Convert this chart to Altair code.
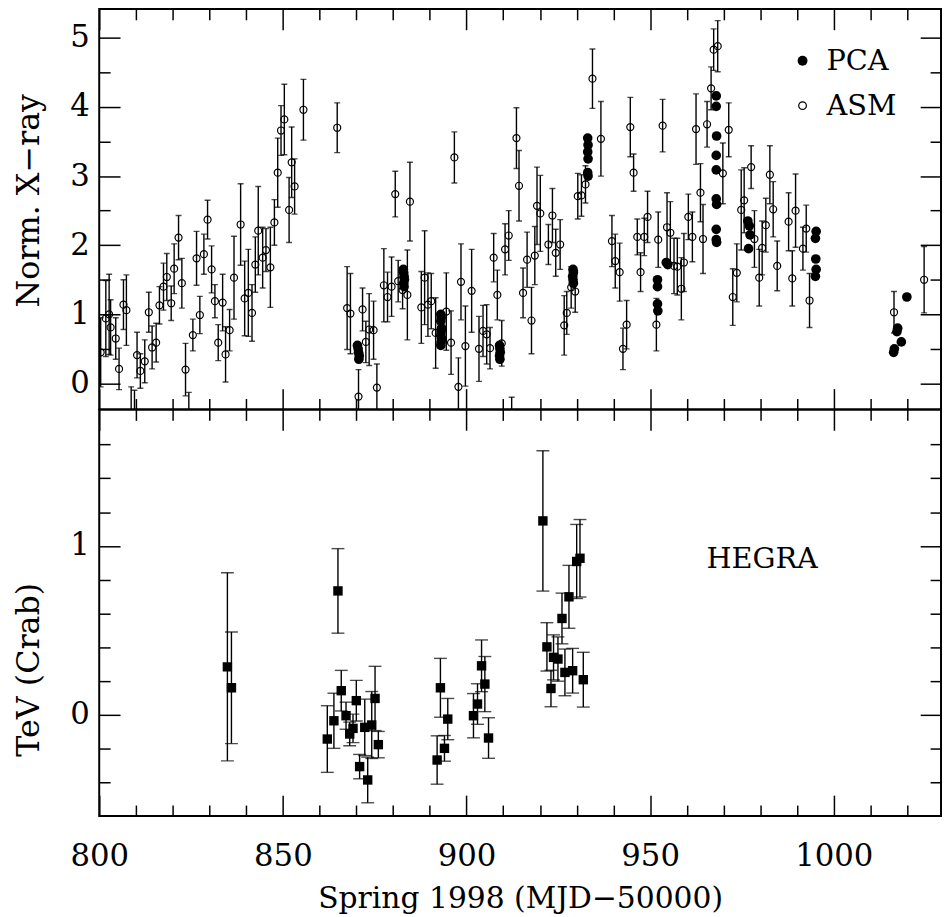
import altair as alt
import pandas as pd

# ---------------- data ----------------
asm_day = [800.4, 801.8, 802.7, 803.1, 804.5, 805.4, 806.6, 807.4, 808.7, 809.6,
           810.3, 811.2, 812.4, 813.5, 814.4, 815.5, 816.4, 817.5, 818.4, 819.6,
           820.4, 821.6, 822.5, 823.5, 824.4, 825.5, 826.5, 827.4, 828.5, 829.5,
           830.6, 831.5, 832.4, 833.6, 834.4, 835.5, 836.7, 838.5, 839.6, 840.6,
           841.6, 842.5, 843.3, 844.5, 845.4, 846.6, 847.7, 848.6, 849.5, 850.4,
           851.7, 852.4, 853.2, 855.6, 864.8, 867.5, 868.4, 870.6, 871.7, 872.6,
           873.5, 874.7, 875.6, 877.5, 878.5, 879.6, 880.6, 881.4, 882.6, 883.9,
           884.6, 887.7, 888.6, 889.5, 890.4, 891.6, 894.5, 895.8, 896.7, 897.8,
           898.5, 899.7, 901.4, 903.4, 904.5, 905.5, 906.4, 907.4, 908.4, 909.6,
           910.5, 911.5, 912.3, 913.6, 914.3, 915.4, 916.5, 917.7, 918.6, 919.2,
           920.1, 922.3, 923.4, 924.3, 925.5, 926.6, 927.3, 928.5, 929.6, 930.3,
           931.3, 932.4, 934.3, 936.6, 939.6, 940.5, 941.7, 942.6, 943.6, 944.6,
           945.5, 946.5, 947.4, 948.4, 949.3, 951.7, 952.2, 953.4, 954.6, 955.5,
           956.5, 957.4, 958.5, 959.2, 960.4, 961.5, 962.5, 963.7, 964.4, 965.5,
           966.6, 967.3, 968.4, 969.8, 971.4, 972.5, 973.6, 974.8, 975.6, 977.5,
           978.4, 979.7, 980.5, 981.5, 982.6, 983.5, 984.6, 987.7, 988.7, 989.6,
           991.6, 992.5, 993.4, 1016.4, 1024.6]
asm_val = [0.45, 0.94, 1.00, 0.81, 0.65, 0.21, 1.14, 1.06, -0.60, -0.65,
           0.41, 0.18, 0.32, 1.03, 0.52, 0.59, 1.13, 1.40, 1.54, 1.16,
           1.66, 2.11, 1.45, 0.20, -0.55, 0.70, 1.81, 0.99, 1.87, 2.37,
           1.65, 1.19, 0.59, 1.17, 0.42, 0.77, 1.53, 2.30, 1.23, 1.31,
           1.02, 1.72, 2.21, 1.82, 1.93, 1.68, 2.33, 3.05, 3.66, 3.82,
           2.51, 3.20, 2.85, 3.96, 3.70, 1.09, 1.01, -0.19, 1.07, 0.60,
           0.78, 0.77, -0.06, 1.42, 1.25, 1.40, 2.74, 1.48, 1.35, 1.28,
           2.63, 1.10, 1.53, 1.14, 1.19, 0.73, 1.04, 0.59, 3.27, -0.05,
           1.47, 0.54, 1.34, 0.50, 0.76, 0.71, 0.51, 1.82, 1.28, 0.58,
           1.94, 2.14, -0.70, 3.55, 2.86, 1.31, 1.79, 0.91, 1.85, 2.57,
           2.46, 2.01, 2.43, 1.89, 2.01, 0.84, 1.02, 1.39, 1.33, 2.71,
           2.72, 2.88, 4.41, 3.54, 2.06, 1.77, 1.61, 0.50, 0.85, 3.71,
           3.05, 2.12, 1.61, 2.12, 2.41, 0.85, 2.08, 3.73, 2.26, 2.18,
           1.70, 1.69, 1.37, 1.75, 2.41, 2.12, 3.68, 2.76, 2.09, 3.75,
           4.27, 4.83, 4.88, 3.04, 3.67, 1.25, 1.60, 2.51, 2.65, 3.13,
           2.09, 1.53, 1.96, 2.29, 3.02, 2.52, 1.70, 2.34, 1.52, 2.50,
           1.95, 2.24, 1.20, 1.03, 1.50]
asm_err = [0.50, 0.55, 0.58, 0.40, 0.30, 0.30, 0.36, 0.51, 0.55, 0.55,
           0.33, 0.25, 0.31, 0.29, 0.31, 0.28, 0.27, 0.34, 0.34, 0.25,
           0.36, 0.32, 0.36, 0.38, 0.42, 0.23, 0.39, 0.27, 0.29, 0.28,
           0.34, 0.24, 0.26, 0.41, 0.40, 0.30, 0.60, 0.59, 0.54, 0.63,
           0.41, 0.40, 0.64, 0.44, 0.31, 0.58, 0.33, 0.50, 0.36, 0.51,
           0.47, 0.51, 0.40, 0.44, 0.36, 0.60, 0.58, 0.39, 0.31, 0.30,
           0.52, 0.42, 0.34, 0.53, 0.36, 0.43, 0.33, 0.30, 0.27, 0.65,
           0.57, 0.52, 0.68, 0.46, 0.40, 0.51, 0.56, 0.46, 0.37, 0.42,
           0.55, 0.58, 0.60, 0.47, 0.37, 0.43, 0.30, 0.35, 0.36, 0.33,
           0.37, 0.36, 0.50, 0.44, 0.51, 0.36, 0.40, 0.48, 0.42, 0.56,
           0.55, 0.29, 0.39, 0.34, 0.36, 0.43, 0.31, 0.30, 0.30, 0.33,
           0.30, 0.27, 0.43, 0.54, 0.37, 0.39, 0.42, 0.30, 0.35, 0.43,
           0.27, 0.26, 0.28, 0.27, 0.37, 0.38, 0.40, 0.38, 0.50, 0.45,
           0.40, 0.41, 0.45, 0.42, 0.33, 0.36, 0.51, 0.42, 0.50, 0.33,
           0.31, 0.30, 0.37, 0.44, 0.39, 0.41, 0.42, 0.58, 0.47, 0.31,
           0.41, 0.41, 0.39, 0.39, 0.42, 0.40, 0.36, 0.42, 0.40, 0.53,
           0.31, 0.34, 0.39, 0.30, 0.48]

pca_day = [870.3, 870.5, 870.6, 870.8, 870.7,
           882.8, 882.9, 883.0, 883.1, 882.9, 883.0,
           893.0, 893.1, 893.0, 893.2, 893.1, 893.0, 893.2, 893.1, 893.0,
           909.0, 909.1, 909.2, 909.0, 909.1,
           929.0, 929.1, 928.9, 929.0, 929.1,
           933.0, 933.1, 933.0, 933.1, 933.0, 933.1,
           952.0, 952.0, 952.0, 952.1,
           954.4, 954.8,
           968.0, 968.0, 968.1, 968.0, 968.0, 968.0, 968.1, 968.0, 968.0, 968.1,
           976.6, 977.0, 977.2, 976.8,
           995.2, 995.0, 995.1, 995.2, 995.0,
           1016.3, 1016.5, 1017.4, 1017.2, 1018.4, 1019.9]
pca_val = [0.55, 0.50, 0.45, 0.40, 0.35,
           1.65, 1.60, 1.55, 1.50, 1.45, 1.40,
           1.00, 0.95, 0.90, 0.80, 0.75, 0.70, 0.65, 0.60, 0.55,
           0.55, 0.50, 0.45, 0.40, 0.35,
           1.65, 1.60, 1.55, 1.50, 1.45,
           3.55, 3.45, 3.35, 3.25, 3.05, 3.00,
           1.50, 1.40, 1.15, 1.05,
           1.75, 1.72,
           4.16, 4.01, 3.58, 3.30, 3.09, 2.67, 2.59, 2.23, 2.08, 2.04,
           2.35, 2.28, 2.15, 1.95,
           2.20, 2.10, 1.80, 1.65, 1.55,
           0.45, 0.50, 0.80, 0.75, 0.60, 1.25]

hegra_day = [834.9, 836.0, 862.1, 863.9, 865.0, 865.9, 867.2, 868.2, 869.1, 870.0,
             870.9, 872.3, 873.1, 874.2, 875.1, 876.0, 892.0, 892.9, 894.0, 894.9,
             901.9, 903.0, 904.1, 905.0, 906.0, 920.8, 921.9, 923.0, 923.7, 924.9,
             926.0, 926.8, 927.9, 928.9, 930.0, 930.9, 931.8]
hegra_val = [0.285, 0.161, -0.142, -0.034, 0.734, 0.144, -0.004, -0.112, -0.079, 0.085,
             -0.305, -0.073, -0.384, -0.059, 0.098, -0.175, -0.266, 0.161, -0.197, -0.024,
             -0.004, 0.065, 0.291, 0.183, -0.136, 1.148, 0.403, 0.157, 0.341, 0.331,
             0.571, 0.252, 0.699, 0.262, 0.908, 0.927, 0.209]
hegra_err = [0.556, 0.330, 0.197, 0.163, 0.250, 0.120, 0.080, 0.070, 0.084, 0.120,
             0.072, 0.167, 0.135, 0.198, 0.190, 0.078, 0.143, 0.174, 0.076, 0.122,
             0.131, 0.120, 0.153, 0.163, 0.120, 0.415, 0.143, 0.108, 0.133, 0.131,
             0.150, 0.138, 0.186, 0.132, 0.219, 0.229, 0.162]

x_domain = [800, 1029.2]
top_domain = [-0.377, 5.42]
bot_domain = [-0.597, 1.807]

x_major = [800, 850, 900, 950, 1000]
x_minor = [810, 820, 830, 840, 860, 870, 880, 890, 910, 920, 930, 940,
           960, 970, 980, 990, 1010, 1020]
top_y_major = [0, 1, 2, 3, 4, 5]
top_y_minor = [0.5, 1.5, 2.5, 3.5, 4.5]
bot_y_major = [0, 1]
bot_y_minor = [-0.4, -0.2, 0.2, 0.4, 0.6, 0.8, 1.2, 1.4, 1.6]

legend_labels = ["PCA", "ASM"]
legend_val = [4.67, 4.02]
legend_filled = [True, False]
legend_sym_day = 991.5
legend_text_day = 998.0

hegra_label = ["HEGRA"]
hegra_label_day = [980.5]
hegra_label_val = [0.92]

x_title = "Spring 1998 (MJD\u221250000)"
top_y_title = "Norm. X\u2212ray"
bot_y_title = "TeV (Crab)"

# ---------------- style ----------------
FONT = "DejaVu Serif"
W = 849
H_TOP, H_BOT = 404, 410
MAJ, MIN = 21, 11
xscale = alt.Scale(domain=x_domain, nice=False, zero=False)
top_scale = alt.Scale(domain=top_domain, nice=False, zero=False)
bot_scale = alt.Scale(domain=bot_domain, nice=False, zero=False)


def tick_axis(orient, values, size, **kw):
    return alt.Axis(orient=orient, values=values, tickSize=size, offset=-size,
                    domain=False, grid=False, ticks=True, tickColor="black",
                    tickWidth=1.5, **kw)


def plain(orient, values, size):
    return tick_axis(orient, values, size, labels=False, title=None)


def labelled_y(values, title, ty):
    return tick_axis("left", values, MAJ, labels=True, format="d",
                     labelFont=FONT, labelFontSize=31, labelColor="black",
                     labelPadding=10, title=title, titleFont=FONT,
                     titleFontSize=32, titleFontWeight="normal",
                     titleColor="black", titlePadding=25, titleY=ty)


labelled_x = tick_axis("bottom", x_major, MAJ, labels=True, format="d",
                       labelFont=FONT, labelFontSize=31, labelColor="black",
                       labelPadding=26, labelFlush=False, title=x_title,
                       titleFont=FONT, titleFontSize=30,
                       titleFontWeight="normal", titleColor="black",
                       titlePadding=12)

# ---------------- top panel ----------------
asm = pd.DataFrame({"day": asm_day, "val": asm_val, "err": asm_err})
asm["lo"] = asm["val"] - asm["err"]
asm["hi"] = asm["val"] + asm["err"]
pca = pd.DataFrame({"day": pca_day, "val": pca_val})
leg = pd.DataFrame({"label": legend_labels, "val": legend_val,
                    "filled": legend_filled})
leg["sym"] = legend_sym_day
leg["txt"] = legend_text_day


def TX(field, axis):
    return alt.X(f"{field}:Q", scale=xscale, axis=axis)


def TY(field, axis, scale):
    return alt.Y(f"{field}:Q", scale=scale, axis=axis)


t_rule = alt.Chart(asm).mark_rule(color="black", strokeWidth=1.4, clip=True).encode(
    x=TX("day", plain("bottom", x_major, MAJ)),
    y=TY("lo", labelled_y(top_y_major, top_y_title, 193), top_scale),
    y2="hi:Q")
t_cap_lo = alt.Chart(asm).mark_tick(orient="horizontal", size=6, thickness=1.4,
                                    color="black", clip=True).encode(
    x=TX("day", plain("bottom", x_minor, MIN)),
    y=TY("lo", plain("left", top_y_minor, MIN), top_scale))
t_cap_hi = alt.Chart(asm).mark_tick(orient="horizontal", size=6, thickness=1.4,
                                    color="black", clip=True).encode(
    x=TX("day", plain("top", x_major, MAJ)),
    y=TY("hi", plain("right", top_y_major, MAJ), top_scale))
t_pts = alt.Chart(asm).mark_point(shape="circle", filled=False, size=50,
                                  strokeWidth=1.2, color="black", opacity=1,
                                  clip=True).encode(
    x=TX("day", plain("top", x_minor, MIN)),
    y=TY("val", plain("right", top_y_minor, MIN), top_scale))
t_pca = alt.Chart(pca).mark_point(shape="circle", filled=True, size=95,
                                  color="black", opacity=1, clip=True).encode(
    x=TX("day", None), y=TY("val", None, top_scale))
t_leg_f = alt.Chart(leg).transform_filter("datum.filled").mark_point(
    shape="circle", filled=True, size=100, color="black", opacity=1).encode(
    x=TX("sym", None), y=TY("val", None, top_scale))
t_leg_o = alt.Chart(leg).transform_filter("!datum.filled").mark_point(
    shape="circle", filled=False, size=60, strokeWidth=1.2, color="black",
    opacity=1).encode(x=TX("sym", None), y=TY("val", None, top_scale))
t_leg_t = alt.Chart(leg).mark_text(align="left", baseline="middle", font=FONT,
                                   fontSize=29, color="black").encode(
    x=TX("txt", None), y=TY("val", None, top_scale), text="label:N")

top = alt.layer(t_rule, t_cap_lo, t_cap_hi, t_pts, t_pca, t_leg_f, t_leg_o,
                t_leg_t).resolve_axis(x="independent", y="independent").properties(
    width=W, height=H_TOP)

# ---------------- bottom panel ----------------
heg = pd.DataFrame({"day": hegra_day, "val": hegra_val, "err": hegra_err})
heg["lo"] = heg["val"] - heg["err"]
heg["hi"] = heg["val"] + heg["err"]
lab = pd.DataFrame({"day": hegra_label_day, "val": hegra_label_val,
                    "label": hegra_label})

b_rule = alt.Chart(heg).mark_rule(color="black", strokeWidth=1.4, clip=True).encode(
    x=TX("day", labelled_x),
    y=TY("lo", labelled_y(bot_y_major, bot_y_title, 262), bot_scale),
    y2="hi:Q")
b_cap_lo = alt.Chart(heg).mark_tick(orient="horizontal", size=13, thickness=1.4,
                                    color="black", clip=True).encode(
    x=TX("day", plain("bottom", x_minor, MIN)),
    y=TY("lo", plain("left", bot_y_minor, MIN), bot_scale))
b_cap_hi = alt.Chart(heg).mark_tick(orient="horizontal", size=13, thickness=1.4,
                                    color="black", clip=True).encode(
    x=TX("day", plain("top", x_major, MAJ)),
    y=TY("hi", plain("right", bot_y_major, MAJ), bot_scale))
b_pts = alt.Chart(heg).mark_point(shape="square", filled=True, size=90,
                                  color="black", opacity=1, clip=True).encode(
    x=TX("day", plain("top", x_minor, MIN)),
    y=TY("val", plain("right", bot_y_minor, MIN), bot_scale))
b_lab = alt.Chart(lab).mark_text(align="center", baseline="middle", font=FONT,
                                 fontSize=29, color="black").encode(
    x=TX("day", None), y=TY("val", None, bot_scale), text="label:N")

bottom = alt.layer(b_rule, b_cap_lo, b_cap_hi, b_pts, b_lab).resolve_axis(
    x="independent", y="independent").properties(width=W, height=H_BOT)

chart = alt.vconcat(top, bottom, spacing=0, bounds="flush").resolve_scale(
    x="independent", y="independent").properties(
    padding={"left": 3, "top": -5, "right": 0, "bottom": 0}).configure_view(
    stroke="black", strokeWidth=2)

chart.save("out.html", embed_options={"renderer": "svg", "actions": False})
